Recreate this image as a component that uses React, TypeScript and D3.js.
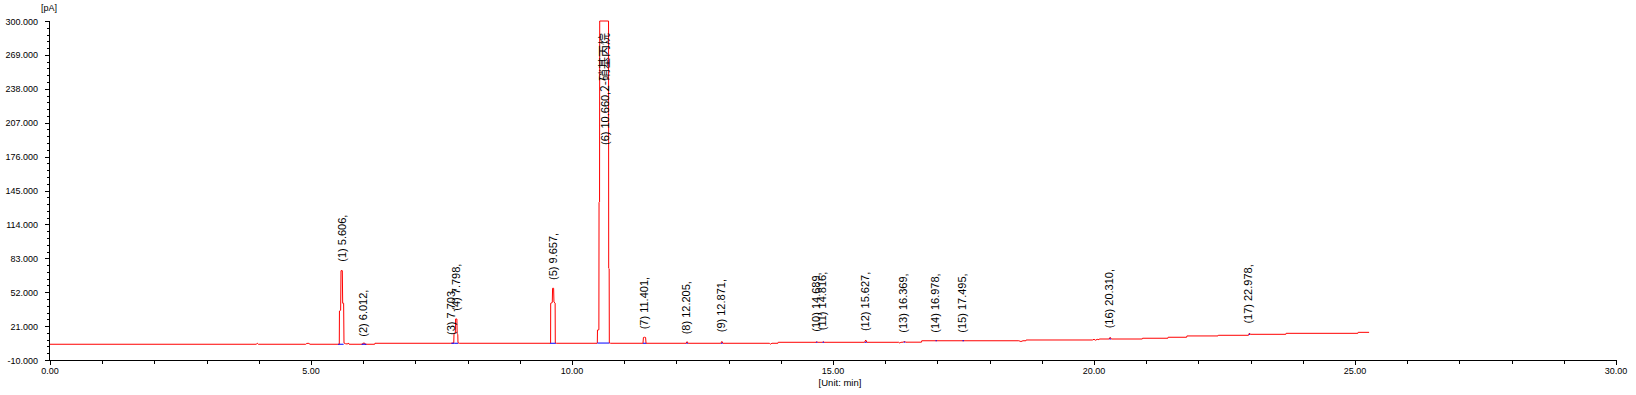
import React from "react";
import * as d3 from "d3";

// ---- data (time in min, signal in pA) ----
const traceTime = [
  0.0, 3.95, 3.97, 3.99, 4.9, 4.92, 4.96, 4.98,
  5.54, 5.542, 5.545, 5.568, 5.575, 5.6, 5.607, 5.625, 5.632, 5.66, 5.7, 5.715, 5.73,
  5.99, 5.995, 6.03, 6.035, 6.22, 6.225,
  7.68, 7.735, 7.74, 7.765, 7.77, 7.795, 7.8, 7.812, 7.816, 7.84,
  9.585, 9.59, 9.592, 9.622, 9.628, 9.648, 9.654, 9.677, 9.68, 9.7,
  10.48, 10.485, 10.488, 10.515, 10.518, 10.528, 10.531, 10.7, 10.703, 10.712, 10.715, 10.74,
  11.36, 11.368, 11.39, 11.41, 11.418,
  12.185, 12.205, 12.225, 12.85, 12.871, 12.89,
  13.78, 13.8, 13.83, 13.945, 13.95,
  14.675, 14.689, 14.7, 14.8, 14.816, 14.83,
  15.605, 15.627, 15.65,
  16.26, 16.28, 16.3, 16.35, 16.369, 16.39, 16.695, 16.7,
  18.56, 18.6, 18.64, 18.695, 18.7,
  19.97, 20.0, 20.03, 20.06, 20.095, 20.1, 20.29, 20.31, 20.33,
  20.925, 20.93, 21.415, 21.42, 21.775, 21.78, 22.375, 22.38,
  22.96, 22.978, 22.995, 23.675, 23.68, 25.055, 25.06, 25.27,
];
const traceValue = [
  4.4, 4.4, 5.3, 4.4, 4.4, 5.2, 5.2, 4.4,
  4.4, 4.6, 34.8, 35.5, 71.7, 71.7, 41.9, 41.9, 5.6, 4.9, 4.6, 5.6, 4.4,
  4.4, 5.4, 5.4, 4.4, 4.4, 5.3,
  5.3, 5.6, 14.4, 14.6, 27.5, 27.5, 14.0, 13.5, 5.8, 5.3,
  5.3, 5.6, 41.9, 42.5, 55.6, 55.6, 43.0, 42.0, 5.6, 5.3,
  5.3, 5.6, 17.4, 17.6, 134, 134.5, 1200, 1200, 73.9, 73.5, 5.6, 5.3,
  5.3, 10.6, 10.8, 10.6, 5.3,
  5.3, 6.8, 5.3, 5.3, 7.0, 5.3,
  5.3, 4.5, 5.3, 5.3, 6.2,
  6.2, 6.9, 6.2, 6.2, 6.9, 6.2,
  6.2, 8.3, 6.2,
  6.2, 5.5, 6.2, 6.3, 7.3, 6.3, 6.3, 7.6,
  7.6, 6.9, 7.6, 7.6, 8.3,
  8.3, 8.9, 8.1, 8.9, 8.6, 9.2, 9.2, 10.8, 9.2,
  9.2, 9.9, 9.9, 10.8, 10.8, 12.0, 12.0, 12.6,
  12.6, 14.6, 13.5, 13.5, 14.4, 14.4, 15.3, 15.3,
];

const peakTimes = [5.606, 6.012, 7.703, 7.798, 9.657, 10.66, 11.401, 12.205, 12.871, 14.689, 14.816, 15.627, 16.369, 16.978, 17.495, 20.31, 22.978];
const peakNames = ["", "", "", "", "", "2-硝基丙烷", "", "", "", "", "", "", "", "", "", "", ""];
const peakApex = [72.1, 3.5, 5.1, 27.3, 55.4, 1200, 10.3, 5.7, 7.6, 8.1, 9.4, 8.7, 7.2, 7.2, 7.2, 11.2, 15.5];
const peakStart = [5.52, 5.97, 7.69, 7.745, 9.58, 10.485, 11.36, 12.19, 12.855, 14.675, 14.8, 15.61, 16.355, 16.965, 17.48, 20.295, 22.965];
const peakEnd = [5.625, 6.06, 7.745, 7.82, 9.69, 10.715, 11.42, 12.22, 12.885, 14.7, 14.83, 15.645, 16.385, 16.99, 17.51, 20.325, 22.99];
const peakBase = [4.4, 4.4, 5.3, 5.3, 5.3, 5.5, 5.3, 5.3, 5.3, 6.2, 6.2, 6.2, 6.3, 7.6, 7.6, 9.2, 13.5];

const yMajorTicks = [-10, 21, 52, 83, 114, 145, 176, 207, 238, 269, 300];
const xMajorTicks = [0, 5, 10, 15, 20, 25, 30];
const yUnit = "[pA]";
const xUnit = "[Unit: min]";

const W = 1636;
const H = 395;
const FONT = "'Liberation Sans', Arial, 'Noto Sans CJK SC', sans-serif";

export default function App() {
  const x = d3.scaleLinear().domain([0, 30]).range([50, 1616]);
  const y = d3.scaleLinear().domain([-10, 300]).range([360, 21]);
  const yMax = 300;

  const pts: [number, number][] = traceTime.map((t, i) => [t, traceValue[i]]);
  const line = d3
    .line<[number, number]>()
    .x((d) => x(d[0]))
    .y((d) => y(Math.min(d[1], yMax)));

  const yMinor = d3.range(-10, 300.01, 6.2);
  const xMinor = d3.range(0, 30.01, 1);
  const x0 = Math.round(x(0)) - 0.5;
  const y0 = Math.round(y(-10)) + 0.5;

  return (
    <svg
      width={W}
      height={H}
      style={{ position: "absolute", left: 0, top: 0, background: "#fff" }}
      fontFamily={FONT}
    >
      <rect width={W} height={H} fill="#fff" />
      {/* trace */}
      <path d={line(pts) || ""} fill="none" stroke="#ff0000" strokeWidth={1} />
      {/* integration baselines */}
      {peakTimes.map((t, i) => (
        <line
          key={"b" + i}
          x1={x(peakStart[i])}
          x2={x(peakEnd[i])}
          y1={y(peakBase[i])}
          y2={y(peakBase[i])}
          stroke="#0000ff"
          strokeWidth={1}
        />
      ))}
      {/* peak labels */}
      {peakTimes.map((t, i) => {
        const bx = x(t) + 3;
        const clipped = peakApex[i] > yMax;
        const ly = clipped ? y(yMax) + 12 : y(peakApex[i]) - 8.5;
        const txt = `(${i + 1}) ${t.toFixed(3)},`;
        return (
          <text
            key={"l" + i}
            transform={`translate(${bx},${ly}) rotate(-90)`}
            textAnchor={clipped ? "end" : "start"}
            fontSize={11}
            fill="#000"
          >
            {txt}
            {peakNames[i] ? (
              <tspan fontSize={12} fontFamily="'Noto Sans CJK SC', sans-serif">
                {peakNames[i]}
              </tspan>
            ) : null}
          </text>
        );
      })}
      {/* axes */}
      <g shapeRendering="crispEdges" stroke="#000" strokeWidth={1}>
        <line x1={x0} x2={x0} y1={y(300)} y2={y0} />
        <line x1={x0} x2={x(30) + 0.5} y1={y0} y2={y0} />
        {yMinor.map((v, i) => (
          <line key={"ym" + i} x1={x0 - 3} x2={x0} y1={Math.round(y(v)) + 0.5} y2={Math.round(y(v)) + 0.5} />
        ))}
        {yMajorTicks.map((v, i) => (
          <line key={"yM" + i} x1={x0 - 5} x2={x0} y1={Math.round(y(v)) + 0.5} y2={Math.round(y(v)) + 0.5} />
        ))}
        {xMinor.map((v, i) => (
          <line key={"xm" + i} x1={Math.round(x(v)) + 0.5} x2={Math.round(x(v)) + 0.5} y1={y0} y2={y0 + 3} />
        ))}
        {xMajorTicks.map((v, i) => (
          <line key={"xM" + i} x1={Math.round(x(v)) + 0.5} x2={Math.round(x(v)) + 0.5} y1={y0} y2={y0 + 4} />
        ))}
      </g>
      {yMajorTicks.map((v, i) => (
        <text key={"yl" + i} x={38} y={y(v) + 3.5} textAnchor="end" fontSize={9} fill="#000">
          {v.toFixed(3)}
        </text>
      ))}
      {xMajorTicks.map((v, i) => (
        <text key={"xl" + i} x={x(v)} y={374} textAnchor="middle" fontSize={9} fill="#000">
          {v.toFixed(2)}
        </text>
      ))}
      <text x={49} y={11} textAnchor="middle" fontSize={9} fill="#000">
        {yUnit}
      </text>
      <text x={840} y={386} textAnchor="middle" fontSize={9.5} fill="#000">
        {xUnit}
      </text>
    </svg>
  );
}
